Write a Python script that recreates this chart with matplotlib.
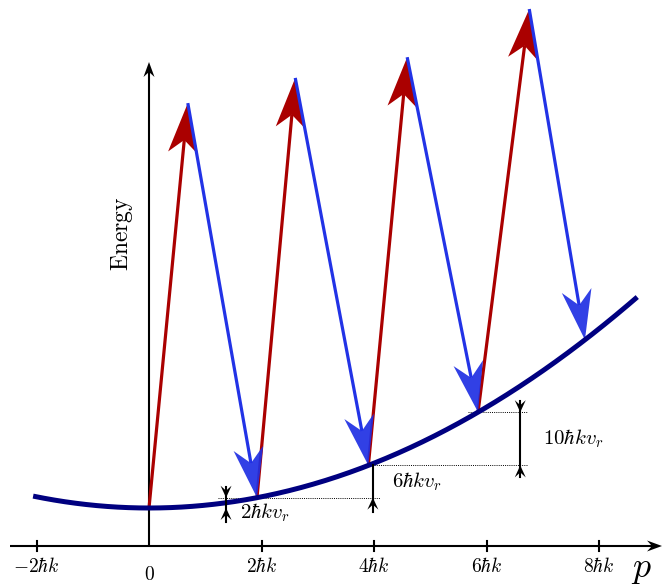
import numpy as np
import matplotlib
matplotlib.use("Agg")
import matplotlib.pyplot as plt
from matplotlib.patches import Polygon

plt.rcParams['mathtext.fontset'] = 'cm'

# ---- data (momentum in units of hbar k, energy in units of hbar k v_r) ----
tick_p = [-2, 0, 2, 4, 6, 8]
tick_labels = [r'$-2\hbar k$', r'$0$', r'$2\hbar k$', r'$4\hbar k$', r'$6\hbar k$', r'$8\hbar k$']
ground_p = [0.0, 1.92, 3.90, 5.85, 7.75]          # momenta where photon cycles start/end
red_tip_p = [0.69, 2.60, 4.59, 6.76]              # tips of absorption (red) arrows
red_tip_E = [72.3, 76.8, 80.5, 89.1]
curve_p_range = [-2.06, 8.68]
gap_labels = [r'$2\hbar k v_r$', r'$6\hbar k v_r$', r'$10\hbar k v_r$']
gap_marker_p = [1.37, 3.98, 6.60]
gap_label_pos = [(1.62, -0.8), (4.32, 4.7), (7.0, 12.4)]

def disp(p):
    return np.asarray(p) ** 2 / 2.0

RED = '#aa0000'
BLUE = '#2233e6'
HEADBLUE = '#1f2fe3'
NAVY = '#000080'

fig = plt.figure(figsize=(6.64, 5.86), dpi=100)
ax = fig.add_axes([0, 0, 1, 1])
ax.set_xlim(-149 / 56.25, (664 - 149) / 56.25)
ax.set_ylim((508 - 586) / 5.6, 508 / 5.6)
ax.axis('off')

def stealth(tip, frm, L, W, notch, color, alpha=1.0, z=3, lw_line=None, line_color=None, draw_line=True):
    T = ax.transData
    tipd = T.transform(tip)
    frd = T.transform(frm)
    u = tipd - frd
    u = u / np.hypot(*u)
    n = np.array([-u[1], u[0]])
    pts = [tipd, tipd - L * u + W * n, tipd - notch * u, tipd - L * u - W * n]
    pts_data = T.inverted().transform(np.array(pts))
    if draw_line:
        endd = T.inverted().transform(tipd - notch * u)
        ax.plot([frm[0], endd[0]], [frm[1], endd[1]], color=line_color or color,
                lw=lw_line, solid_capstyle='butt', zorder=z)
    ax.add_patch(Polygon(pts_data, closed=True, facecolor=color, edgecolor='none',
                         alpha=alpha, zorder=z + 0.1))

axis_E = (508 - 546) / 5.6
# horizontal axis
x_left = (10 - 149) / 56.25
x_right = (662 - 149) / 56.25
stealth((x_right, axis_E), (x_left, axis_E), 15, 5.5, 10, 'black', lw_line=1.5, z=2)
# vertical axis
stealth((0, (508 - 62) / 5.6), (0, axis_E), 15, 5.5, 10, 'black', lw_line=1.5, z=2)

# ticks
for tp, tl in zip(tick_p, tick_labels):
    if tp != 0:
        ax.plot([tp, tp], [axis_E - 5 / 5.6, axis_E + 5 / 5.6], color='black', lw=1.5, zorder=2)
    dy = 29 if tp == 0 else 21
    ax.text(tp, axis_E - dy / 5.6, tl, ha='center', va='center', fontsize=14)

ax.text((641 - 149) / 56.25, axis_E - 23 / 5.6, r'$p$', ha='center', va='center', fontsize=26)
ax.text((122 - 149) / 56.25, (508 - 234) / 5.6, r'$\mathrm{Energy}$', rotation=90,
        ha='center', va='center', fontsize=17)

# dispersion curve
pc = np.linspace(curve_p_range[0], curve_p_range[1], 400)
ax.plot(pc, disp(pc), color=NAVY, lw=3.6, zorder=5, solid_capstyle='butt')

# photon arrows
for i in range(len(red_tip_p)):
    start = (ground_p[i], disp(ground_p[i]))
    tip = (red_tip_p[i], red_tip_E[i])
    end = (ground_p[i + 1], disp(ground_p[i + 1]))
    stealth(tip, start, 50, 15, 37, RED, lw_line=2.3, z=3)
    stealth(end, tip, 50, 15, 35, HEADBLUE, alpha=0.92, lw_line=2.3, line_color=BLUE, z=4)

# dotted reference lines
E1, E2, E3 = disp(ground_p[1]), disp(ground_p[2]), disp(ground_p[3])
ax.plot([(218 - 149) / 56.25, (380 - 149) / 56.25], [E1, E1], color='black', lw=0.7, ls=(0, (1, 1.2)), zorder=1)
ax.plot([(372 - 149) / 56.25, (527 - 149) / 56.25], [E2, E2], color='black', lw=0.7, ls=(0, (1, 1.2)), zorder=1)
ax.plot([(468 - 149) / 56.25, (527 - 149) / 56.25], [E3, E3], color='black', lw=0.7, ls=(0, (1, 1.2)), zorder=1)

# gap markers
def small_head(px, tipE, fromE):
    stealth((px, tipE), (px, fromE), 12, 5.5, 7, 'black', draw_line=False, z=6)

mk = 1.0 / 5.6
# 2 hbar k v_r
p0 = gap_marker_p[0]
ax.plot([p0, p0], [E1 + 11 * mk, -14 * mk], color='black', lw=1.5, zorder=6)
small_head(p0, E1, E1 + 11 * mk)
small_head(p0, 0.0, -12 * mk)
# 6 hbar k v_r
p1 = gap_marker_p[1]
ax.plot([p1, p1], [E2, E1 - 14 * mk], color='black', lw=1.5, zorder=6)
small_head(p1, E1, E1 - 12 * mk)
# 10 hbar k v_r
p2 = gap_marker_p[2]
ax.plot([p2, p2], [E3 + 11 * mk, E2 - 12 * mk], color='black', lw=1.5, zorder=6)
small_head(p2, E3, E3 + 11 * mk)
small_head(p2, E2, E2 - 12 * mk)

for lab, (lp, le) in zip(gap_labels, gap_label_pos):
    ax.text(lp, le, lab, ha='left', va='center', fontsize=15)

fig.savefig('out.png', dpi=100)
